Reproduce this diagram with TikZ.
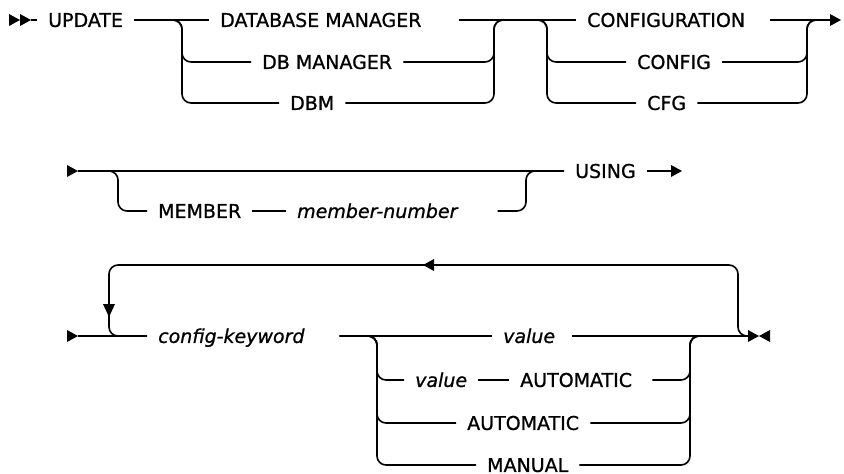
\documentclass[tikz,border=0pt]{standalone}
\usepackage{fontspec}
\setmainfont{DejaVu Sans}[FakeBold=0.9]
\usetikzlibrary{calc}

\tikzset{
  rail/.style={line width=1.6pt, rounded corners=9pt},
  kw/.style={anchor=west, inner xsep=11pt, inner ysep=0pt, text height=13.85pt, text depth=0pt,
             font=\fontsize{19}{22}\selectfont},
  var/.style={kw, font=\fontsize{19}{22}\selectfont\itshape},
}
% filled tips, given by the point of the tip
\newcommand{\tipright}[1]{\fill (#1) -- ++(-11,-6) -- ++(0,12) -- cycle;}
\newcommand{\tipleft}[1]{\fill (#1) -- ++(11,-6) -- ++(0,12) -- cycle;}
\newcommand{\tipdown}[1]{\fill (#1) -- ++(-6,-13) -- ++(12,0) -- cycle;}

\begin{document}
\begin{tikzpicture}[x=1pt, y=-1pt]
    \useasboundingbox (0,0) rectangle (844,474);

    % Rails
    \coordinate (a-l) at (182,20);   % manager choice, left
    \coordinate (a-r) at (494,20);   % manager choice, right
    \coordinate (ab)  at (520,20);
    \coordinate (b-l) at (547,20);   % configuration choice, left
    \coordinate (b-r) at (807,20);   % configuration choice, right
    \coordinate (c-l) at (118,171);  % member option
    \coordinate (c-r) at (526,171);
    \coordinate (d-l) at (377,336);  % value choice
    \coordinate (d-r) at (690,336);
    \coordinate (lp-l) at (109,265); % repeat loop
    \coordinate (lp-r) at (738,265);

    % 1. First line
    \node[kw] (update) at (37,20) {UPDATE};
    \node[kw] (dbmgr) at (209,20) {DATABASE MANAGER};
    \node[kw] (dbman) at (251,62) {DB MANAGER};
    \node[kw] (dbm) at (279,103) {DBM};
    \node[kw] (configuration) at (576,20) {CONFIGURATION};
    \node[kw] (config) at (626,62) {CONFIG};
    \node[kw] (cfg) at (636,103) {CFG};
    \coordinate (s1) at (31,20);
    \coordinate (e1) at (830,20);

    \tipright{20,20} \tipright{s1}
    \draw[rail] (s1) -- (update.west);
    \draw[rail] (update.east) -- (dbmgr.west);
    \draw[rail] (update.east) -- (a-l) -- (a-l |- dbman) -- (dbman.west);
    \draw[rail] (update.east) -- (a-l) -- (a-l |- dbm) -- (dbm.west);
    \draw[rail] ([xshift=26]dbmgr.east) -- (configuration.west);
    \draw[rail] (dbman.east) -- (a-r |- dbman) -- (a-r) -- (ab);
    \draw[rail] (dbm.east) -- (a-r |- dbm) -- (a-r) -- (ab);
    \draw[rail] (ab) -- (b-l) -- (b-l |- config) -- (config.west);
    \draw[rail] (ab) -- (b-l) -- (b-l |- cfg) -- (cfg.west);
    \draw[rail] ([xshift=14]configuration.east) -- (e1);
    \draw[rail] (config.east) -- (b-r |- config) -- (b-r) -- (e1);
    \draw[rail] (cfg.east) -- (b-r |- cfg) -- (b-r) -- (e1);
    \tipright{841,20}

    % 2. Second line
    \node[kw] (member) at (147,211) {MEMBER};
    \node[var] (memnum) at (286,211) {member-number};
    \node[kw] (using) at (564,171) {USING};
    \coordinate (s2) at (78,171);
    \coordinate (e2) at (671,171);

    \tipright{s2}
    \draw[rail] (s2) -- (using.west);
    \draw[rail] (s2) -- (c-l) -- (c-l |- member) -- (member.west);
    \draw[rail] (member.east) -- (memnum.west);
    \draw[rail] ([xshift=29]memnum.east) -- (c-r |- memnum) -- (c-r) -- (using.west);
    \draw[rail] (using.east) -- (e2);
    \tipright{682,171}

    % 3. Third line
    \node[var] (keyword) at (147,336) {config-keyword};
    \node[var] (value) at (492,336) {value};
    \node[var] (value2) at (404,380) {value};
    \node[kw] (auto) at (509,380) {AUTOMATIC};
    \node[kw] (auto2) at (456,423) {AUTOMATIC};
    \node[kw] (manual) at (476,465) {MANUAL};
    \coordinate (s3) at (78,336);
    \coordinate (e3) at (748,336);

    \tipright{s3}
    \draw[rail] (s3) -- (keyword.west);
    \draw[rail] ([xshift=24]keyword.east) -- (value.west);
    \draw[rail] ([xshift=24]keyword.east) -- (d-l) -- (d-l |- value2) -- (value2.west);
    \draw[rail] ([xshift=24]keyword.east) -- (d-l) -- (d-l |- auto2) -- (auto2.west);
    \draw[rail] ([xshift=24]keyword.east) -- (d-l) -- (d-l |- manual) -- (manual.west);
    \draw[rail] (value2.east) -- (auto.west);
    \draw[rail] ([xshift=6]value.east) -- (e3);
    \draw[rail] ([xshift=9]auto.east) -- (d-r |- auto) -- (d-r) -- (e3);
    \draw[rail] (auto2.east) -- (d-r |- auto2) -- (d-r) -- (e3);
    \draw[rail] (manual.east) -- (d-r |- manual) -- (d-r) -- (e3);

    % repeat loop
    \draw[rail] (e3) -- (lp-r |- e3) -- (lp-r) -- (lp-l) -- (lp-l |- s3) -- (keyword.west);
    \tipleft{423,265}
    \tipdown{109,317}

    % end marks
    \tipright{759,336} \tipleft{759,336}
\end{tikzpicture}
\end{document}
